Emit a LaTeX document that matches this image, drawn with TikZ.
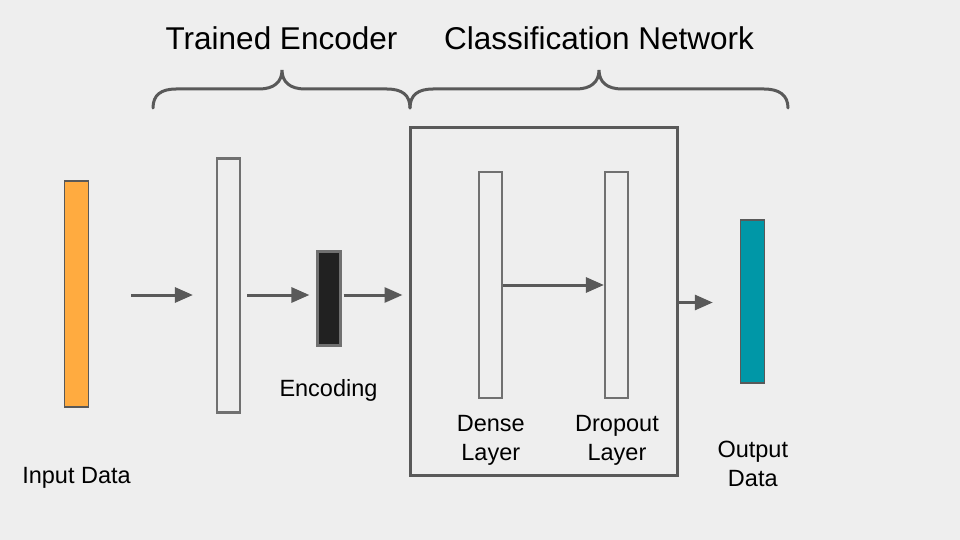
\documentclass[tikz,border=0pt]{standalone}
\usepackage{fontspec}
\setmainfont{Liberation Sans}
\usetikzlibrary{arrows.meta}
\definecolor{bg}{HTML}{EEEEEE}
\definecolor{ln}{HTML}{595959}
\definecolor{lay}{HTML}{707070}
\definecolor{inorange}{HTML}{FFAB40}
\definecolor{outteal}{HTML}{0097A7}
\definecolor{codeblk}{HTML}{212121}
\tikzset{
  layerbox/.style={draw=lay, line width=2.2pt, fill=bg, inner sep=0pt, minimum width=23pt},
  arr/.style={draw=ln, line width=3pt, -{Triangle[length=18pt,width=15pt]}},
  brace/.style={draw=ln, line width=3pt, line cap=round},
  lbl/.style={font=\fontsize{23.5}{29}\selectfont, anchor=base, align=center, inner sep=0pt},
  ttl/.style={font=\fontsize{31.5}{38}\selectfont, anchor=base, inner sep=0pt}
}
\begin{document}
\begin{tikzpicture}[x=1pt,y=-1pt]
\fill[bg] (0,0) rectangle (960,540);
\useasboundingbox (0,0) rectangle (960,540);
% titles
\node[ttl] (t1) at (281.5,50) {Trained Encoder};
\node[ttl] (t2) at (599,50) {Classification Network};
% braces
\draw[brace] (153,108) .. controls (153,95) and (161,89) .. (176,89) -- (259,89)
  .. controls (274,89) and (282,82) .. (282,70)
  .. controls (282,82) and (290,89) .. (305,89) -- (387,89)
  .. controls (402,89) and (410,95) .. (410,108);
\draw[brace] (410,108) .. controls (410,95) and (418,89) .. (433,89) -- (576,89)
  .. controls (591,89) and (599,82) .. (599,70)
  .. controls (599,82) and (607,89) .. (622,89) -- (764,89)
  .. controls (779,89) and (788,95) .. (788,108);
% layers
\node[draw=ln, line width=1.4pt, fill=inorange, inner sep=0pt, minimum width=24pt, minimum height=226pt] (input) at (76.5,294) {};
\node[layerbox, minimum height=254pt] (enc) at (228.5,285.5) {};
\node[draw=lay, line width=2.2pt, fill=codeblk, inner sep=0pt, minimum width=23pt, minimum height=94pt] (code) at (329,298.5) {};
\node[draw=ln, line width=3pt, inner sep=0pt, minimum width=267pt, minimum height=347pt] (box) at (543.5,301.5) {};
\node[layerbox, minimum height=226pt] (dense) at (490.5,285) {};
\node[layerbox, minimum height=226pt] (drop) at (616.5,285) {};
\node[draw=ln, line width=1.4pt, fill=outteal, inner sep=0pt, minimum width=24pt, minimum height=163pt] (out) at (752.5,301.5) {};
% arrows
\coordinate (ya) at (0,295);
\coordinate (yb) at (0,302.5);
\coordinate (yc) at (0,285);
\draw[arr] ([xshift=42pt]input.east |- ya) -- ([xshift=-23pt]enc.west |- ya);
\draw[arr] ([xshift=6pt]enc.east |- ya) -- ([xshift=-7pt]code.west |- ya);
\draw[arr] ([xshift=2pt]code.east |- ya) -- ([xshift=-6pt]box.west |- ya);
\draw[arr] (dense.east |- yc) -- (drop.west |- yc);
\draw[arr] (box.east |- yb) -- ([xshift=-27pt]out.west |- yb);
% labels
\node[lbl] (linput) at (76.5,483.3) {Input Data};
\node[lbl] (lcode) at (328.5,396.7) {Encoding};
\node[lbl] (ldense) at (490.8,460) {Dense\\Layer};
\node[lbl] (ldrop) at (617,460) {Dropout\\Layer};
\node[lbl] (lout) at (752.8,486.5) {Output\\Data};
\end{tikzpicture}
\end{document}
